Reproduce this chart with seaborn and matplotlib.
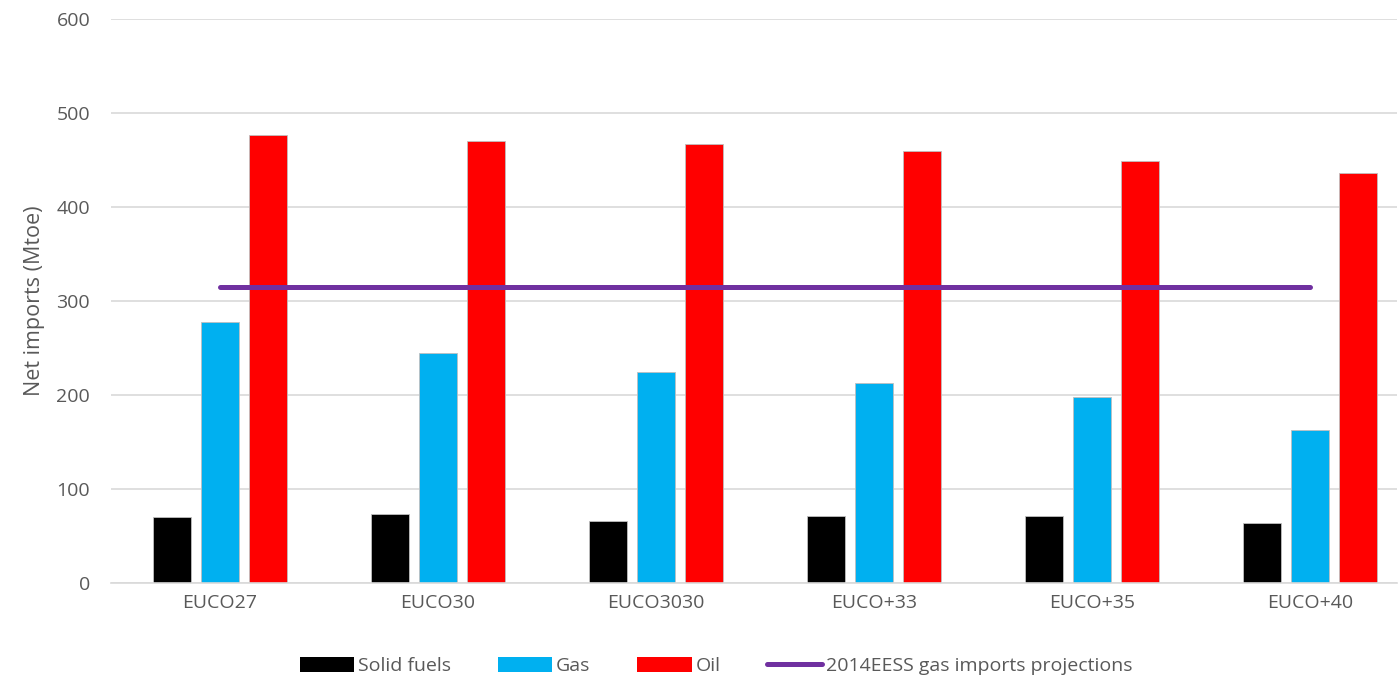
import numpy as np
import pandas as pd
import matplotlib
matplotlib.use("Agg")
import matplotlib.pyplot as plt
from matplotlib.patches import Patch
from matplotlib.lines import Line2D
import seaborn as sns

# Data (Mtoe)
scenarios = ["EUCO27", "EUCO30", "EUCO3030", "EUCO+33", "EUCO+35", "EUCO+40"]
solid_fuels = [70, 73, 66, 71, 71, 64]
gas = [278, 245, 225, 213, 198, 163]
oil = [477, 470, 467, 460, 449, 436]
gas_projection_2014 = [315, 315, 315, 315, 315, 315]

fuels = ["Solid fuels", "Gas", "Oil"]
colors = {"Solid fuels": "#000000", "Gas": "#00B0F0", "Oil": "#FF0000"}
line_color = "#7030A0"
text_color = "#595959"

df = pd.DataFrame({
    "Scenario": scenarios * 3,
    "Fuel": np.repeat(fuels, len(scenarios)),
    "Mtoe": solid_fuels + gas + oil,
})

sns.set_theme(style="white")
plt.rcParams["font.family"] = ["Open Sans", "DejaVu Sans"]

fig = plt.figure(figsize=(13.99, 6.81), dpi=100)
ax = fig.add_axes([111 / 1399, 1 - 583 / 681, (1397 - 111) / 1399, (583 - 19) / 681])

sns.barplot(
    data=df,
    x="Scenario",
    y="Mtoe",
    hue="Fuel",
    hue_order=fuels,
    order=scenarios,
    palette=colors,
    width=0.66,
    gap=0.2,
    saturation=1,
    edgecolor="#BFBFBF",
    linewidth=0.6,
    legend=False,
    ax=ax,
)

# 2014 EESS projection line across the category centres
ax.plot(np.arange(len(scenarios)), gas_projection_2014,
        color=line_color, linewidth=3.6, solid_capstyle="round", zorder=5)

ax.set_ylim(0, 600)
ax.set_xlim(-0.5, 5.4)
ax.set_yticks(range(0, 601, 100))
ax.yaxis.grid(True, color="#D9D9D9", linewidth=1.2)
ax.set_axisbelow(True)
for side in ["top", "right", "left"]:
    ax.spines[side].set_visible(False)
ax.spines["bottom"].set_color("#D9D9D9")
ax.spines["bottom"].set_linewidth(1.2)

ax.set_xlabel("")
ax.set_ylabel("Net imports (Mtoe)", fontsize=15.5, color=text_color, labelpad=8)
ax.tick_params(axis="both", colors=text_color, labelsize=14, length=0)
ax.tick_params(axis="y", pad=15)
ax.tick_params(axis="x", pad=8)

handles = [Patch(facecolor=colors[f], edgecolor="none") for f in fuels]
handles.append(Line2D([0], [0], color=line_color, linewidth=3.6, solid_capstyle="round"))
labels = fuels + ["2014EESS gas imports projections"]
fig.legend(
    handles, labels,
    loc="center", bbox_to_anchor=(716 / 1399, 1 - 666 / 681),
    ncol=4, frameon=False, fontsize=14,
    handlelength=2.8, handleheight=0.8, handletextpad=0.2, columnspacing=2.4,
    labelcolor=text_color,
)

fig.savefig("out.png", dpi=100)
